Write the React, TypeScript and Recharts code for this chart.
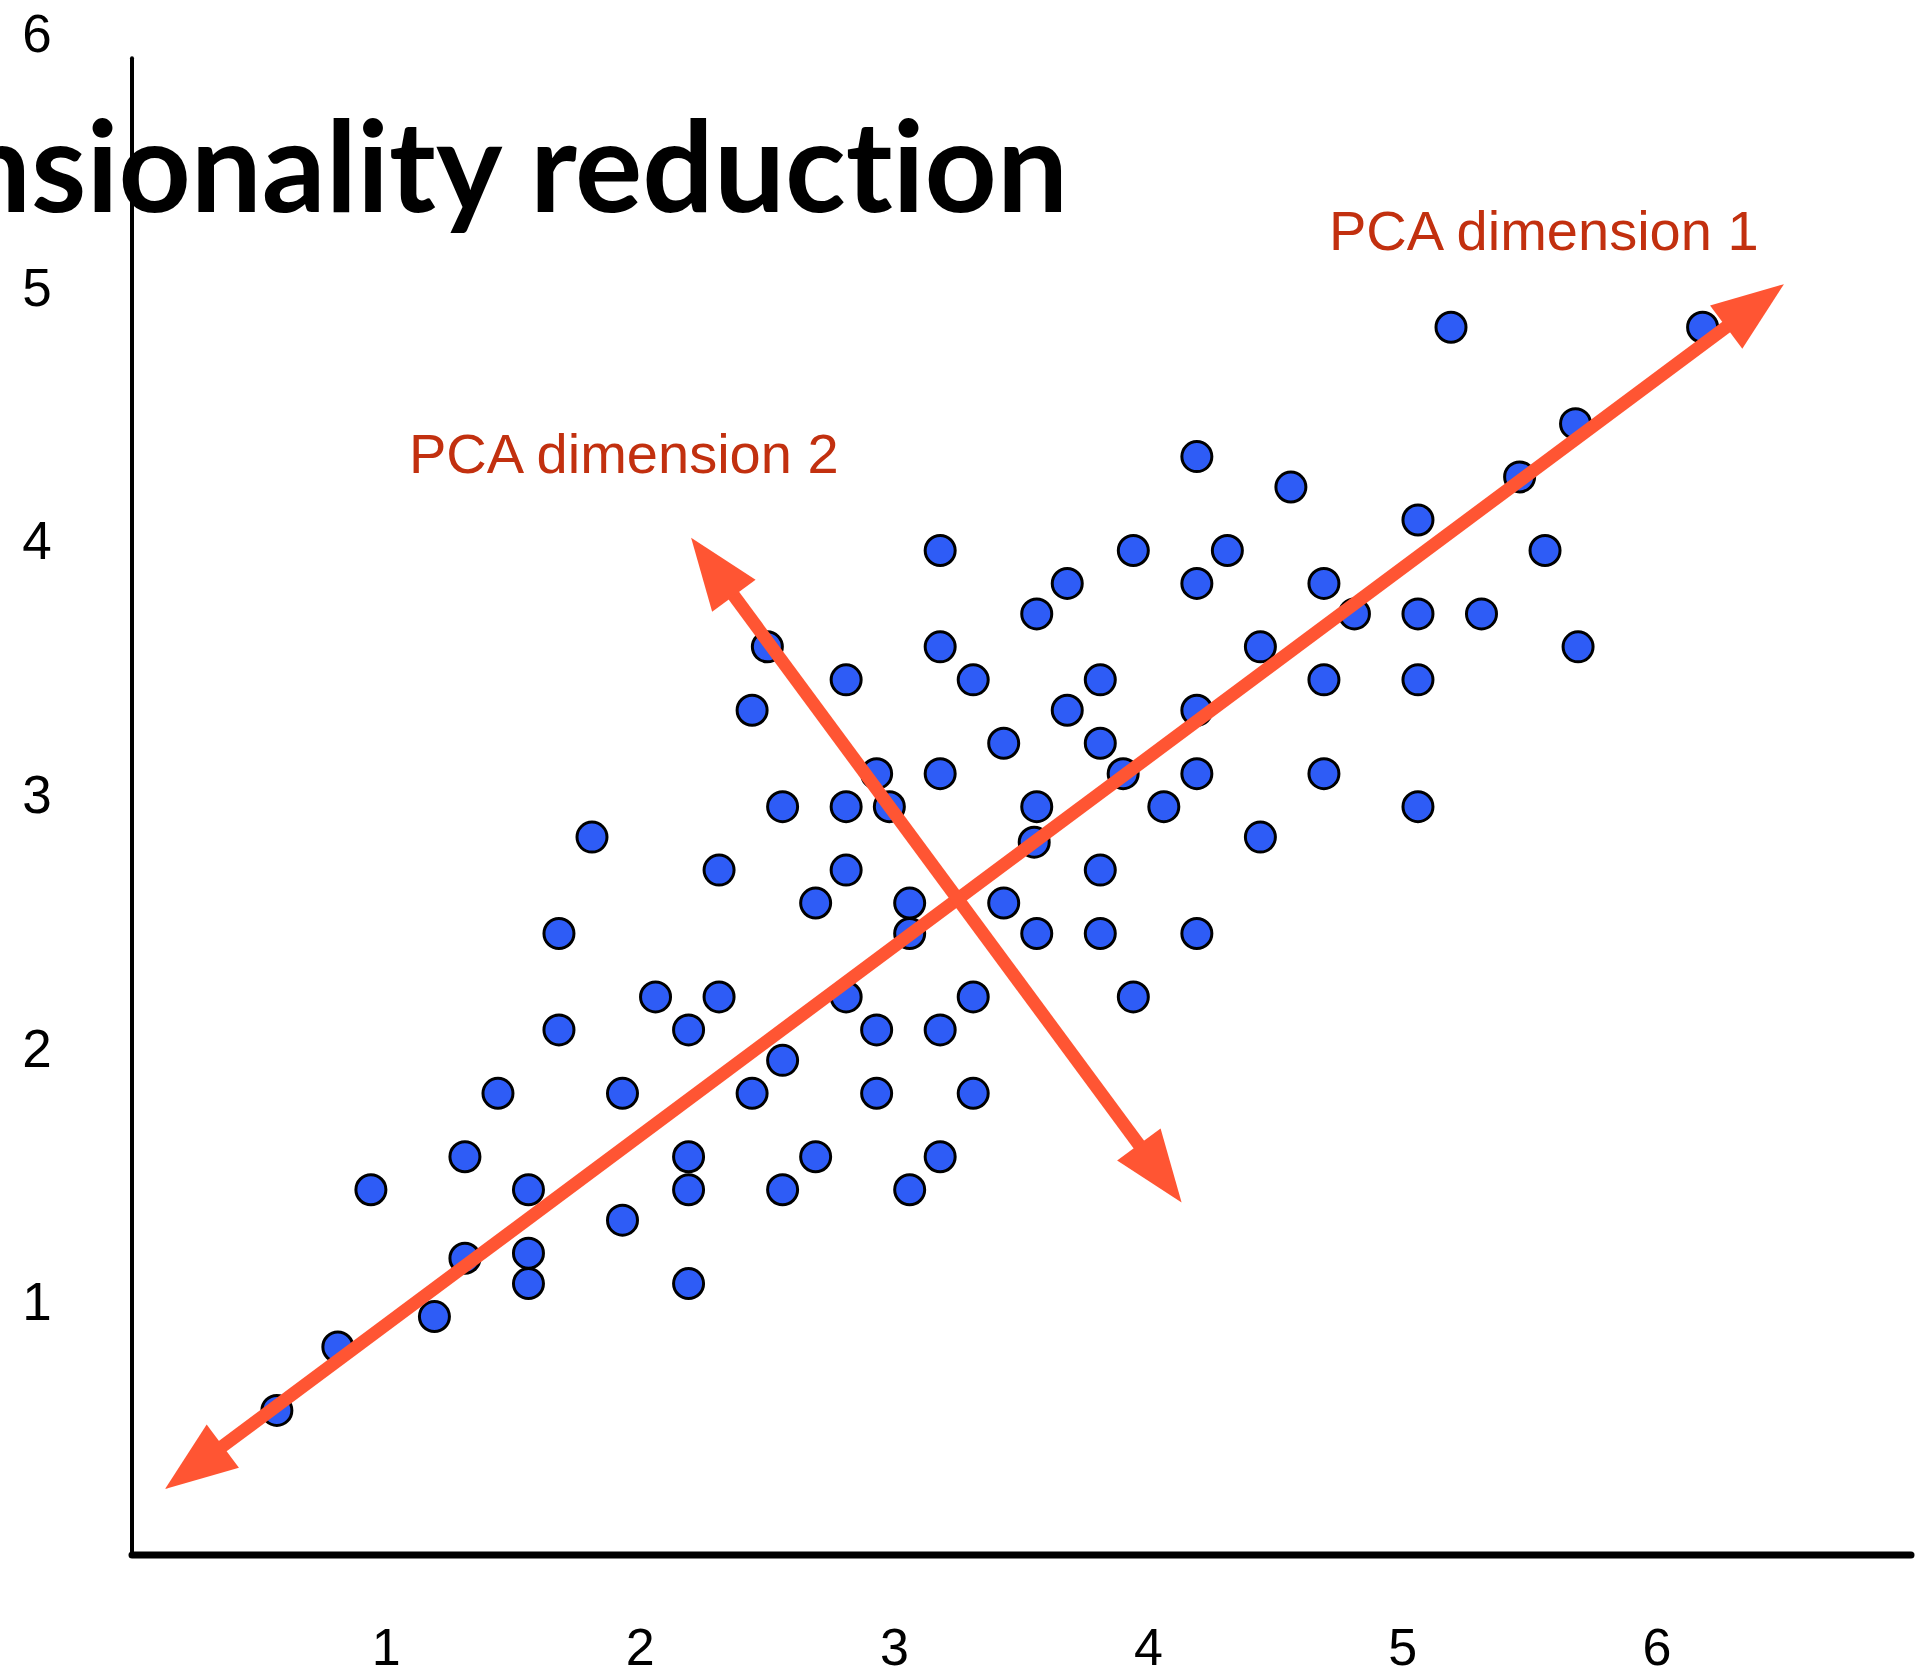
import { ReferenceLine, Scatter, ScatterChart, XAxis, YAxis } from "recharts";

// point cloud (x, y pairs share an index; one line per row)
const pointX = [
  5.19, 6.18,
  4.19,
  5.68,
  4.56,
  5.46,
  5.06,
  3.18, 3.94, 4.31, 5.56,
  3.68, 4.19, 4.69,
  3.56, 4.81, 5.06, 5.31,
  2.5, 3.18, 4.44, 5.69,
  2.81, 3.31, 3.81, 4.69, 5.06,
  2.44, 3.68, 4.19,
  3.43, 3.81,
  2.93, 3.18, 3.9, 4.19, 4.69,
  2.56, 2.81, 2.98, 3.56, 4.06, 5.06,
  1.81, 3.55, 4.44,
  2.31, 2.81, 3.81,
  2.69, 3.06, 3.43,
  1.68, 3.06, 3.56, 3.81, 4.19,
  2.06, 2.31, 2.81, 3.31, 3.94,
  1.68, 2.19, 2.93, 3.18,
  2.56,
  1.44, 1.93, 2.44, 2.93, 3.31,
  1.31, 2.19, 2.69, 3.18,
  0.94, 1.56, 2.19, 2.56, 3.06,
  1.93,
  1.31,
  1.56,
  1.56, 2.19,
  1.19,
  0.81,
  0.57,
];
const pointY = [
  4.84, 4.84,
  4.33,
  4.46,
  4.21,
  4.25,
  4.08,
  3.96, 3.96, 3.96, 3.96,
  3.83, 3.83, 3.83,
  3.71, 3.71, 3.71, 3.71,
  3.58, 3.58, 3.58, 3.58,
  3.45, 3.45, 3.45, 3.45, 3.45,
  3.33, 3.33, 3.33,
  3.2, 3.2,
  3.08, 3.08, 3.08, 3.08, 3.08,
  2.95, 2.95, 2.95, 2.95, 2.95, 2.95,
  2.83, 2.81, 2.83,
  2.7, 2.7, 2.7,
  2.57, 2.57, 2.57,
  2.45, 2.45, 2.45, 2.45, 2.45,
  2.2, 2.2, 2.2, 2.2, 2.2,
  2.07, 2.07, 2.07, 2.07,
  1.95,
  1.82, 1.82, 1.82, 1.82, 1.82,
  1.57, 1.57, 1.57, 1.57,
  1.44, 1.44, 1.44, 1.44, 1.44,
  1.32,
  1.17,
  1.19,
  1.07, 1.07,
  0.94,
  0.82,
  0.57,
];

const xTicks = [1, 2, 3, 4, 5, 6];
const yTicks = [1, 2, 3, 4, 5, 6];

// double-headed arrows (tip to tip, data units)
const pca1 = [
  { x: 0.13, y: 0.26 },
  { x: 6.5, y: 5.01 },
];
const pca2 = [
  { x: 2.2, y: 4.01 },
  { x: 4.13, y: 1.39 },
];
const axisX = [
  { x: 0, y: 0 },
  { x: 7, y: 0 },
];
const axisY = [
  { x: 0, y: 0 },
  { x: 0, y: 5.9 },
];

const points = pointX.map((x, i) => ({ x, y: pointY[i] }));

const ARROW = "#FF5533";
const LABEL = "#C2300F";
const DOT = "#2E5CF6";
const SANS = "'Liberation Sans', Arial, Helvetica, sans-serif";

function Dot(p: any) {
  return <circle cx={p.cx} cy={p.cy} r={15} fill={DOT} stroke="#000" strokeWidth={3} />;
}

function Arrow(p: any) {
  const { x1, y1, x2, y2 } = p;
  const dx = x2 - x1;
  const dy = y2 - y1;
  const len = Math.hypot(dx, dy) || 1;
  const ux = dx / len;
  const uy = dy / len;
  const nx = -uy;
  const ny = ux;
  const L = 72; // head length
  const W = 27; // half head width
  const head = (tx: number, ty: number, dir: number) => {
    const bx = tx - dir * L * ux;
    const by = ty - dir * L * uy;
    return `${tx},${ty} ${bx + W * nx},${by + W * ny} ${bx - W * nx},${by - W * ny}`;
  };
  return (
    <g>
      <line
        x1={x1 + ux * L * 0.8}
        y1={y1 + uy * L * 0.8}
        x2={x2 - ux * L * 0.8}
        y2={y2 - uy * L * 0.8}
        stroke={ARROW}
        strokeWidth={13}
      />
      <polygon points={head(x2, y2, 1)} fill={ARROW} />
      <polygon points={head(x1, y1, -1)} fill={ARROW} />
    </g>
  );
}

function AxisLine(w: number) {
  return (p: any) => (
    <line x1={p.x1} y1={p.y1} x2={p.x2} y2={p.y2} stroke="#000" strokeWidth={w} strokeLinecap="round" />
  );
}

export default function App() {
  return (
    <div style={{ position: "absolute", left: 0, top: 0, width: 1921, height: 1677, background: "#fff" }}>
      <ScatterChart width={1921} height={1677} margin={{ top: 33, right: 10, bottom: 0, left: 0 }}>
        <XAxis
          type="number"
          dataKey="x"
          domain={[0, 7]}
          ticks={xTicks}
          interval={0}
          axisLine={false}
          tickLine={false}
          height={122}
          tick={(p: any) => (
            <text x={p.x} y={1665} textAnchor="middle" fontSize={52} fontFamily={SANS} fill="#000">
              {p.payload.value}
            </text>
          )}
        />
        <YAxis
          type="number"
          dataKey="y"
          domain={[0, 6]}
          ticks={yTicks}
          interval={0}
          axisLine={false}
          tickLine={false}
          width={132}
          tick={(p: any) => (
            <text x={37} y={p.y + 19} textAnchor="middle" fontSize={53} fontFamily={SANS} fill="#000">
              {p.payload.value}
            </text>
          )}
        />
        <Scatter data={points} shape={Dot} isAnimationActive={false} />
        <ReferenceLine segment={axisY} ifOverflow="visible" shape={AxisLine(4)} />
        <ReferenceLine segment={axisX} ifOverflow="visible" shape={AxisLine(7)} />
        <ReferenceLine segment={pca1} ifOverflow="visible" shape={Arrow} zIndex={1000} />
        <ReferenceLine segment={pca2} ifOverflow="visible" shape={Arrow} zIndex={1000} />
      </ScatterChart>
      <svg
        width={1921}
        height={1677}
        style={{ position: "absolute", left: 0, top: 0, pointerEvents: "none", overflow: "hidden" }}
      >
        <text
          x={1068}
          y={212}
          textAnchor="end"
          fontSize={126}
          fontWeight={700}
          fontFamily="Lato, 'Open Sans', sans-serif"
          fill="#000"
          style={{ fontVariantLigatures: "none", fontFeatureSettings: "'liga' 0" }}
        >
          Dimensionality reduction
        </text>
        <text x={1329} y={250} fontSize={56} fontFamily={SANS} fill={LABEL}>
          PCA dimension 1
        </text>
        <text x={409} y={473} fontSize={56} fontFamily={SANS} fill={LABEL}>
          PCA dimension 2
        </text>
      </svg>
    </div>
  );
}
